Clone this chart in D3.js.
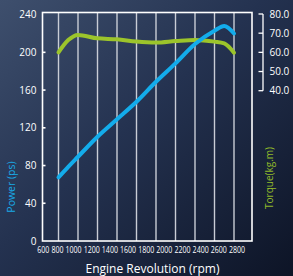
<!DOCTYPE html>
<html>
<head>
<meta charset="utf-8">
<script src="https://cdn.jsdelivr.net/npm/d3@7.9.0/dist/d3.min.js"></script>
<style>
  html, body { margin: 0; padding: 0; background: #1a2438; }
  svg { display: block; font-family: "Open Sans", "DejaVu Sans", sans-serif; }
</style>
</head>
<body>
<svg id="chart" width="293" height="276"></svg>
<script>
// engine speed (rpm) where the curves were read
const rpm = [800, 900, 1000, 1200, 1400, 1600, 1800, 2000, 2200, 2400, 2500, 2600];
// power in ps
const power = [67.5, 78.7, 89.3, 110.5, 129, 147.6, 168.8, 188.3, 208.8, 223, 228, 220];
// torque in kg.m
const torque = [60, 66.4, 69.1, 67.3, 66.8, 65.6, 65.1, 65.9, 66.5, 65.6, 64.7, 59.8];

const rpmTicks = [600, 800, 1000, 1200, 1400, 1600, 1800, 2000, 2200, 2400, 2600, 2800];
const gridRpm = [800, 1000, 1200, 1400, 1600, 1800, 2000, 2200, 2400, 2600];
const powerTicks = [0, 40, 80, 120, 160, 200, 240];
const torqueTicks = [40, 50, 60, 70, 80];

const W = 293, H = 276;
const frame = { left: 42.5, right: 252, top: 12.5, bottom: 241 };

const svg = d3.select('#chart');

// background
const defs = svg.append('defs');
const bg = defs.append('linearGradient').attr('id', 'bg')
  .attr('x1', '0').attr('y1', '0').attr('x2', '1').attr('y2', '1');
bg.append('stop').attr('offset', '0%').attr('stop-color', '#3e4f6d');
bg.append('stop').attr('offset', '45%').attr('stop-color', '#243250');
bg.append('stop').attr('offset', '100%').attr('stop-color', '#0d1426');
svg.append('rect').attr('width', W).attr('height', H).attr('fill', 'url(#bg)');

const x = d3.scaleLinear().domain([600, 2800]).range([39, 253.5]);
const yP = d3.scaleLinear().domain([0, 240]).range([241, 14.6]);
const yT = d3.scaleLinear().domain([40, 80]).range([90.7, 14]);

// vertical grid
svg.append('g').selectAll('line')
  .data(gridRpm)
  .join('line')
  .attr('x1', d => x(d)).attr('x2', d => x(d))
  .attr('y1', frame.top).attr('y2', frame.bottom)
  .attr('stroke', '#c9cdd6').attr('stroke-width', 1.4);

// frame
svg.append('rect')
  .attr('x', frame.left).attr('y', frame.top)
  .attr('width', frame.right - frame.left).attr('height', frame.bottom - frame.top)
  .attr('fill', 'none').attr('stroke', '#ffffff').attr('stroke-width', 1.6);

// left axis ticks + labels
const leftAxis = svg.append('g');
leftAxis.selectAll('line')
  .data(powerTicks.filter(d => d > 0 && d < 240))
  .join('line')
  .attr('x1', frame.left).attr('x2', frame.left + 3)
  .attr('y1', d => yP(d)).attr('y2', d => yP(d))
  .attr('stroke', '#fff').attr('stroke-width', 1.6);
leftAxis.selectAll('text')
  .data(powerTicks)
  .join('text')
  .attr('x', 36.5).attr('y', d => yP(d))
  .attr('dy', '0.35em')
  .attr('text-anchor', 'end')
  .attr('fill', '#fff').attr('font-size', 10)
  .text(d => d);

// right torque axis (bracket)
const rightAxis = svg.append('g');
rightAxis.append('line')
  .attr('x1', 263).attr('x2', 263)
  .attr('y1', yT(80)).attr('y2', yT(40))
  .attr('stroke', '#fff').attr('stroke-width', 1.3);
rightAxis.selectAll('line.t')
  .data(torqueTicks)
  .join('line')
  .attr('class', 't')
  .attr('x1', 258.5).attr('x2', 263)
  .attr('y1', d => yT(d)).attr('y2', d => yT(d))
  .attr('stroke', '#fff').attr('stroke-width', 1.3);
rightAxis.selectAll('text')
  .data(torqueTicks)
  .join('text')
  .attr('x', 269.5).attr('y', d => yT(d))
  .attr('dy', '0.35em')
  .attr('fill', '#fff').attr('font-size', 10)
  .text(d => d.toFixed(1));

// x tick labels: in the original they run as one squeezed row,
// so lay them out one after another and squeeze them horizontally
const rowStart = 37.3, rowEnd = 245;
const xLabels = svg.append('g').attr('fill', '#fff').attr('font-size', 9.5);
const labelEls = xLabels.selectAll('text')
  .data(rpmTicks)
  .join('text')
  .text(d => d);
const widths = labelEls.nodes().map(n => n.getComputedTextLength());
const gap = 2.8;
const natural = d3.sum(widths) + gap * (widths.length - 1);
const k = (rowEnd - rowStart) / natural;
let cursor = rowStart;
labelEls.each(function(d, i) {
  d3.select(this).attr('transform', `translate(${cursor},252.5) scale(${k},1)`);
  cursor += (widths[i] + gap) * k;
});

// axis titles
svg.append('text')
  .attr('x', 152.5).attr('y', 273)
  .attr('text-anchor', 'middle')
  .attr('fill', '#fff').attr('font-size', 12)
  .text('Engine Revolution (rpm)');

svg.append('text')
  .attr('transform', 'translate(15,187) rotate(-90)')
  .attr('text-anchor', 'middle')
  .attr('fill', '#19a9e6').attr('font-size', 10.5)
  .text('Power (ps)');

svg.append('text')
  .attr('transform', 'translate(273,178) rotate(-90)')
  .attr('text-anchor', 'middle')
  .attr('fill', '#8fb82a').attr('font-size', 10)
  .text('Torque(kg.m)');

// curves
const torqueLine = d3.line()
  .x((d, i) => x(rpm[i])).y(d => yT(d))
  .curve(d3.curveMonotoneX);
const powerLine = d3.line()
  .x((d, i) => x(rpm[i])).y(d => yP(d))
  .curve(d3.curveMonotoneX);

svg.append('path')
  .datum(torque)
  .attr('d', torqueLine)
  .attr('fill', 'none').attr('stroke', '#9cc42b')
  .attr('stroke-width', 4).attr('stroke-linecap', 'round').attr('stroke-linejoin', 'round');

svg.append('path')
  .datum(power)
  .attr('d', powerLine)
  .attr('fill', 'none').attr('stroke', '#13aceb')
  .attr('stroke-width', 4).attr('stroke-linecap', 'round').attr('stroke-linejoin', 'round');
</script>
</body>
</html>
